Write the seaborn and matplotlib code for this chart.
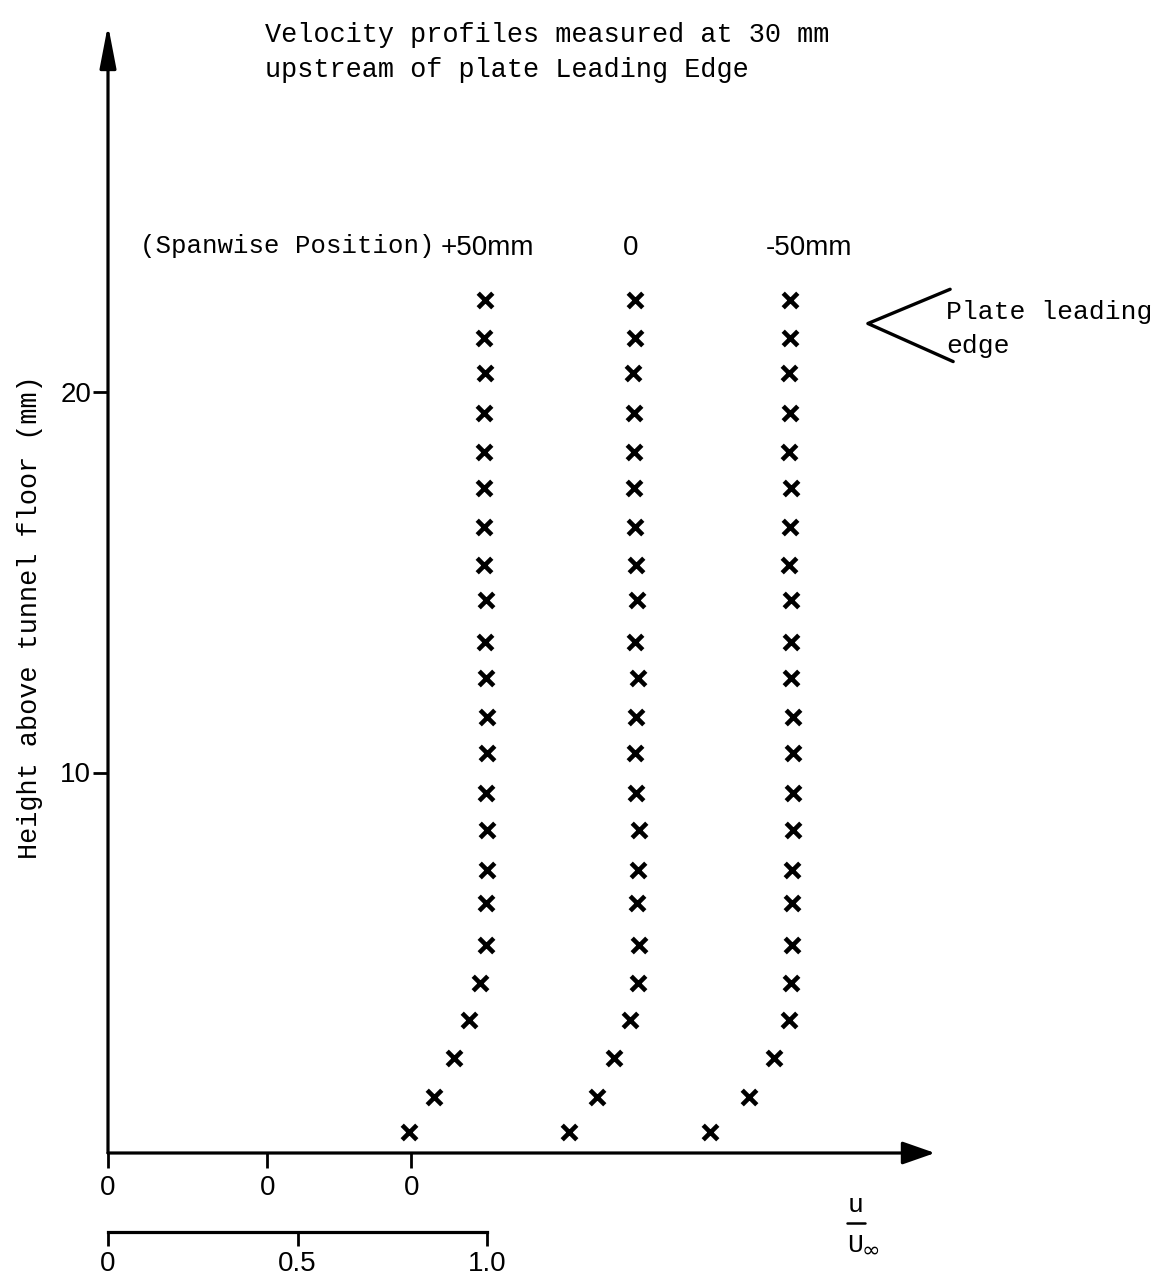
import matplotlib
matplotlib.use("Agg")
import matplotlib.pyplot as plt
import matplotlib.transforms as mtransforms
from matplotlib.lines import Line2D
import numpy as np
import pandas as pd
import seaborn as sns

# ---- measured data -------------------------------------------------------
# probe heights above the tunnel floor (mm), shared by all three traverses
heights = [0.55, 1.47, 2.5, 3.5, 4.47, 5.47, 6.57, 7.44, 8.49, 9.46, 10.51, 11.46,
           12.48, 13.43, 14.53, 15.45, 16.45, 17.48, 18.42, 19.45, 20.5, 21.42, 22.42]

# u / U_inf at each height, bottom to top
u_plus50 = [0.794, 0.860, 0.913, 0.953, 0.982, 0.997, 0.997, 1.000, 1.000, 0.997, 1.000, 1.000,
            0.997, 0.995, 0.997, 0.992, 0.992, 0.992, 0.992, 0.992, 0.995, 0.992, 0.995]
u_zero = [0.797, 0.871, 0.916, 0.958, 0.979, 0.982, 0.976, 0.979, 0.982, 0.974, 0.971, 0.974,
          0.979, 0.971, 0.976, 0.974, 0.971, 0.968, 0.968, 0.968, 0.966, 0.971, 0.971]
u_minus50 = [0.789, 0.892, 0.958, 0.997, 1.003, 1.005, 1.005, 1.005, 1.008, 1.008, 1.008, 1.008,
             1.003, 1.003, 1.003, 0.997, 1.000, 1.003, 0.997, 1.000, 0.997, 1.000, 1.000]

profile_names = ["+50mm", "0", "-50mm"]
profile_origins = [0.0, 0.42, 0.80]      # staggered zero of each u/U_inf scale
profile_values = [u_plus50, u_zero, u_minus50]
label_offsets = [1.0, 0.96, 1.05]        # header label position from each zero
plate_edge_height = 21.8                 # mm

scale_ticks = [0, 0.5, 1.0]
scale_labels = ["0", "0.5", "1.0"]
height_ticks = [10, 20]

# ---- long-form table for seaborn -----------------------------------------
frames = []
for name, origin, vals in zip(profile_names, profile_origins, profile_values):
    frames.append(pd.DataFrame({"profile": name, "height": heights,
                                "u": vals, "x_pos": np.asarray(vals) + origin}))
df = pd.concat(frames, ignore_index=True)

# ---- figure ----------------------------------------------------------------
sns.set_theme(style="white")
plt.rcParams["font.family"] = ["Liberation Sans", "DejaVu Sans"]
MONO = ["Liberation Mono", "DejaVu Sans Mono"]

W, H = 1174, 1280
fig = plt.figure(figsize=(W / 100, H / 100), dpi=100)
fig.patch.set_facecolor("white")


def fx(p):
    return p / W


def fy(p):
    return 1 - p / H


PX_PER_U, PX_PER_MM = 379.0, 38.05
x0, y0, x_right, y_top = 108, 1153, 935, 25

ax = fig.add_axes([fx(x0), fy(y0), (x_right - x0) / W, (y0 - y_top) / H])
ax.set_xlim(0, (x_right - x0) / PX_PER_U)
ax.set_ylim(0, (y0 - y_top) / PX_PER_MM)
ax.set_facecolor("white")

sns.scatterplot(data=df, x="x_pos", y="height", marker="x", color="black",
                s=110, linewidth=3.3, legend=False, ax=ax, clip_on=False, zorder=3)

for sp in ax.spines.values():
    sp.set_visible(False)

# axes drawn as arrows
ax.annotate("", xy=(0, 1), xycoords="axes fraction", xytext=(0, 0),
            arrowprops=dict(arrowstyle="-|>,head_length=1.3,head_width=0.25",
                            lw=2.3, color="black", shrinkA=0, shrinkB=0,
                            mutation_scale=20))
ax.annotate("", xy=(1, 0), xycoords="axes fraction", xytext=(0, 0),
            arrowprops=dict(arrowstyle="-|>,head_length=1.0,head_width=0.35",
                            lw=2.3, color="black", shrinkA=0, shrinkB=0,
                            mutation_scale=20))

ax.set_yticks(height_ticks)
ax.set_yticklabels([str(t) for t in height_ticks])
ax.set_xticks(profile_origins)
ax.set_xticklabels(["0"] * len(profile_origins))
ax.tick_params(axis="y", left=True, direction="out", length=11, width=2,
               color="black", labelcolor="black", labelsize=20, pad=1)
ax.tick_params(axis="x", bottom=True, direction="out", length=11, width=2,
               color="black", labelcolor="black", labelsize=20, pad=5)
ax.set_xlabel("")
ax.set_ylabel("")

# plate leading edge marker
ax.plot([2.222, 2.005, 2.230],
        [plate_edge_height + 0.9, plate_edge_height, plate_edge_height - 1.0],
        color="black", lw=2.4, clip_on=False, solid_capstyle="round")
fig.text(fx(946), fy(312), "Plate leading", family=MONO, fontsize=19,
         ha="left", va="center", color="black")
fig.text(fx(946), fy(346), "edge", family=MONO, fontsize=19,
         ha="left", va="center", color="black")

# header labels
blend = mtransforms.blended_transform_factory(ax.transData, fig.transFigure)
fig.text(fx(140), fy(246), "(Spanwise Position)", family=MONO, fontsize=18.5,
         ha="left", va="center", color="black")
for name, origin, off in zip(profile_names, profile_origins, label_offsets):
    ax.text(origin + off, fy(248), name, transform=blend, fontsize=20,
            ha="center", va="center", color="black")

fig.text(fx(265), fy(35), "Velocity profiles measured at 30 mm", family=MONO,
         fontsize=19.4, ha="left", va="center", color="black")
fig.text(fx(265), fy(70), "upstream of plate Leading Edge", family=MONO,
         fontsize=19.4, ha="left", va="center", color="black")

fig.text(fx(30), fy(617), "Height above tunnel floor (mm)", family=MONO,
         fontsize=19.4, rotation=90, ha="center", va="center", color="black")

# u / U_inf scale bar
ax2 = fig.add_axes([fx(x0), fy(1232), (x_right - x0) / W, 0.0005])
ax2.set_xlim(ax.get_xlim())
ax2.set_facecolor("none")
for key, sp in ax2.spines.items():
    sp.set_visible(key == "bottom")
ax2.spines["bottom"].set_bounds(0, 1.0)
ax2.spines["bottom"].set_linewidth(2.3)
ax2.spines["bottom"].set_color("black")
ax2.set_yticks([])
ax2.set_xticks(scale_ticks)
ax2.set_xticklabels(scale_labels)
ax2.tick_params(axis="x", bottom=True, direction="out", length=10, width=2,
                color="black", labelcolor="black", labelsize=20, pad=4)

# quantity label u / U_inf
fig.text(fx(856), fy(1205), "u", family=MONO, fontsize=19, ha="center",
         va="center", color="black")
fig.add_artist(Line2D([fx(847), fx(865)], [fy(1223), fy(1223)], lw=1.8,
                      color="black", transform=fig.transFigure))
fig.text(fx(847), fy(1245), "U", family=MONO, fontsize=19,
         ha="left", va="center", color="black")
fig.text(fx(862), fy(1251), "\u221e", family=["DejaVu Sans"], fontsize=16,
         ha="left", va="center", color="black")

fig.savefig("out.png", dpi=100, facecolor="white")
